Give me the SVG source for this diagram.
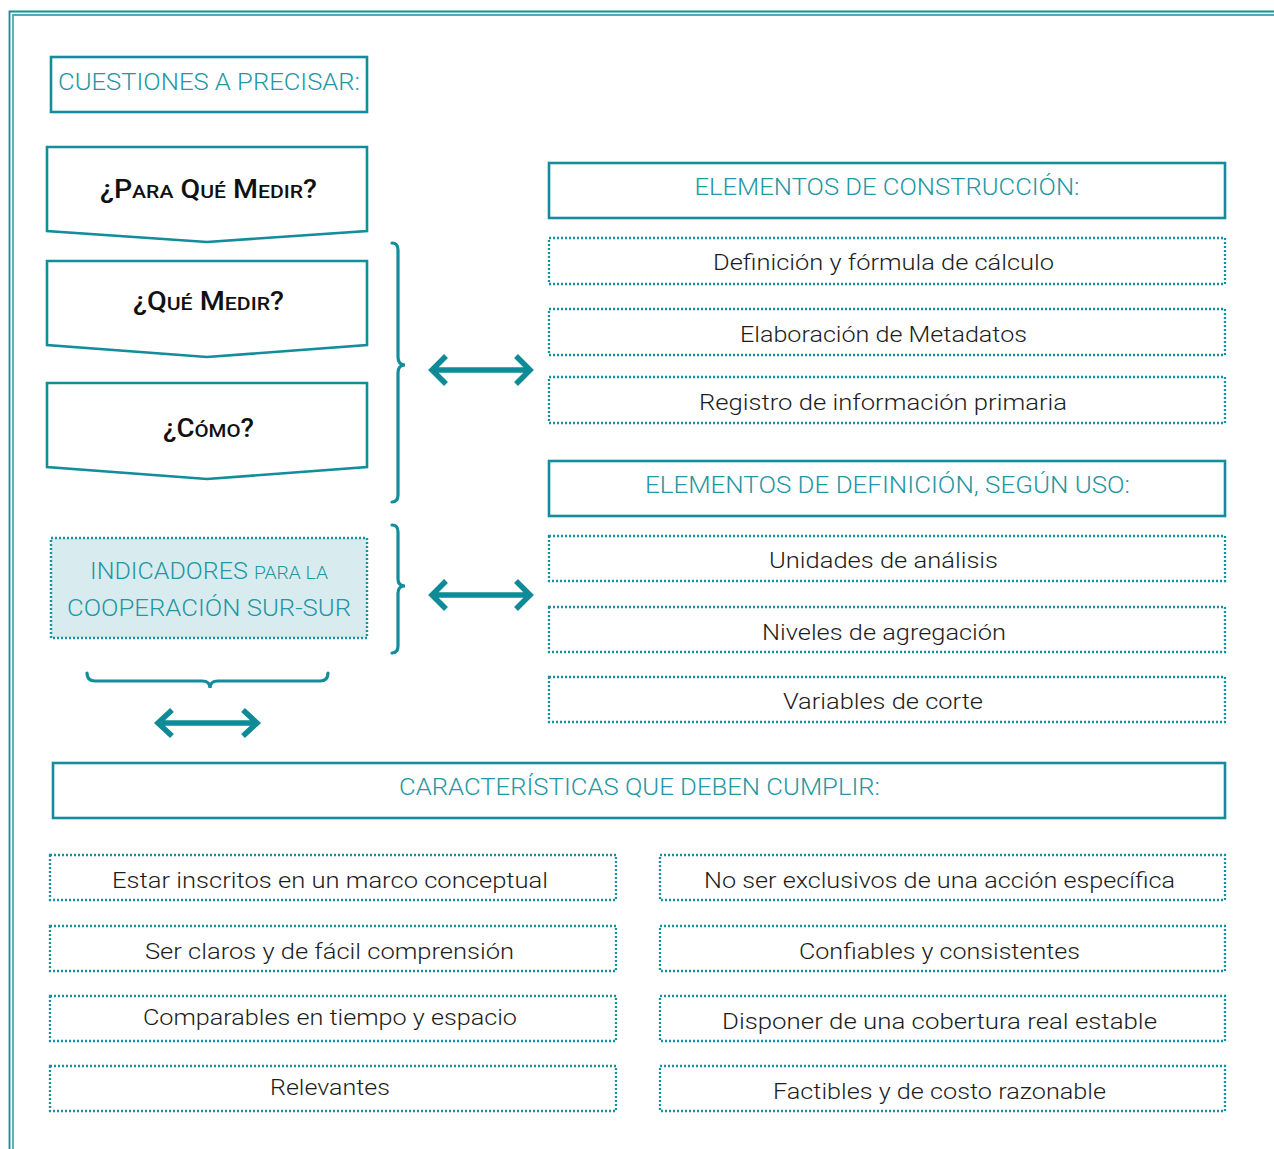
<svg xmlns="http://www.w3.org/2000/svg" width="1274" height="1149" viewBox="0 0 1274 1149">
<style>
.frame{fill:none;stroke:#138d9b;stroke-width:1.8}
.solid{fill:#fff;stroke:#138d9b;stroke-width:2.6}
.dot{fill:#fff;stroke:#1592a0;stroke-width:2.3;stroke-dasharray:2 2}
.brace{fill:none;stroke:#138d9b;stroke-width:3.2;stroke-linecap:round}
.arr{fill:none;stroke:#0f8a97;stroke-width:5.5}
.hd{font-family:Roboto,"Liberation Sans",sans-serif;font-weight:300;font-size:24px;fill:#2496a4;text-anchor:middle}
.tx{font-family:Roboto,"Liberation Sans",sans-serif;font-weight:300;font-size:22px;fill:#1c1c1c;text-anchor:middle}
.q{font-family:Roboto,"Liberation Sans",sans-serif;font-weight:500;font-size:25px;fill:#111;text-anchor:middle}
.sc{font-size:18.5px}
</style>
<rect width="1274" height="1149" fill="#fff"/>
<path class="frame" d="M1274,11.5 L9.5,11.5 L9.5,1149"/>
<path class="frame" d="M1274,15 L13,15 L13,1149" stroke-opacity="0.75" stroke-width="1.4"/>

<g id="cuestiones">
<rect class="solid" x="51" y="57" width="316" height="55"/>
<text class="hd" x="209" y="90" textLength="302" lengthAdjust="spacingAndGlyphs">CUESTIONES A PRECISAR:</text>
</g>
<g id="para-que">
<path class="solid" d="M47,147 L367,147 L367,231 L207,242 L47,231 Z"/>
<text class="q" x="208.5" y="198" textLength="217" lengthAdjust="spacingAndGlyphs">¿P<tspan class="sc">ARA</tspan> Q<tspan class="sc">UÉ</tspan> M<tspan class="sc">EDIR</tspan>?</text>
</g>
<g id="que-medir">
<path class="solid" d="M47,261 L367,261 L367,345 L207,357 L47,345 Z"/>
<text class="q" x="208.5" y="310" textLength="151" lengthAdjust="spacingAndGlyphs">¿Q<tspan class="sc">UÉ</tspan> M<tspan class="sc">EDIR</tspan>?</text>
</g>
<g id="como">
<path class="solid" d="M47,383 L367,383 L367,467 L207,479 L47,467 Z"/>
<text class="q" x="208.5" y="437" textLength="91" lengthAdjust="spacingAndGlyphs">¿C<tspan class="sc">ÓMO</tspan>?</text>
</g>
<g id="indicadores">
<rect x="51" y="538" width="316" height="100" fill="#d8ecef" stroke="#1592a0" stroke-width="2.4" stroke-dasharray="2 2"/>
<text class="hd" x="209" y="579" textLength="238" lengthAdjust="spacingAndGlyphs">INDICADORES <tspan class="sc">PARA LA</tspan></text>
<text class="hd" x="209" y="616" textLength="284" lengthAdjust="spacingAndGlyphs">COOPERACIÓN SUR-SUR</text>
</g>

<g id="construccion">
<rect class="solid" x="549" y="163" width="676" height="55"/>
<text class="hd" x="887" y="195" textLength="385" lengthAdjust="spacingAndGlyphs">ELEMENTOS DE CONSTRUCCIÓN:</text>
</g>
<g id="definicion-formula">
<rect class="dot" x="549" y="238" width="676" height="46"/>
<text class="tx" x="883.5" y="270" textLength="341" lengthAdjust="spacingAndGlyphs">Definición y fórmula de cálculo</text>
</g>
<g id="metadatos">
<rect class="dot" x="549" y="309" width="676" height="46"/>
<text class="tx" x="883.5" y="342" textLength="287" lengthAdjust="spacingAndGlyphs">Elaboración de Metadatos</text>
</g>
<g id="registro">
<rect class="dot" x="549" y="377" width="676" height="46"/>
<text class="tx" x="883" y="410" textLength="368" lengthAdjust="spacingAndGlyphs">Registro de información primaria</text>
</g>
<g id="definicion-uso">
<rect class="solid" x="549" y="461" width="676" height="55"/>
<text class="hd" x="887.5" y="493" textLength="485" lengthAdjust="spacingAndGlyphs">ELEMENTOS DE DEFINICIÓN, SEGÚN USO:</text>
</g>
<g id="unidades">
<rect class="dot" x="549" y="536" width="676" height="45"/>
<text class="tx" x="883.5" y="568" textLength="229" lengthAdjust="spacingAndGlyphs">Unidades de análisis</text>
</g>
<g id="niveles">
<rect class="dot" x="549" y="607" width="676" height="45"/>
<text class="tx" x="884" y="640" textLength="244" lengthAdjust="spacingAndGlyphs">Niveles de agregación</text>
</g>
<g id="variables">
<rect class="dot" x="549" y="677" width="676" height="45"/>
<text class="tx" x="883" y="709" textLength="200" lengthAdjust="spacingAndGlyphs">Variables de corte</text>
</g>

<g id="caracteristicas">
<rect class="solid" x="53" y="763" width="1172" height="55"/>
<text class="hd" x="639.5" y="795" textLength="481" lengthAdjust="spacingAndGlyphs">CARACTERÍSTICAS QUE DEBEN CUMPLIR:</text>
</g>
<g id="marco">
<rect class="dot" x="50" y="855" width="566" height="45"/>
<text class="tx" x="330" y="888" textLength="436" lengthAdjust="spacingAndGlyphs">Estar inscritos en un marco conceptual</text>
</g>
<g id="claros">
<rect class="dot" x="50" y="926" width="566" height="45"/>
<text class="tx" x="329.5" y="959" textLength="369" lengthAdjust="spacingAndGlyphs">Ser claros y de fácil comprensión</text>
</g>
<g id="comparables">
<rect class="dot" x="50" y="996" width="566" height="45"/>
<text class="tx" x="330" y="1025" textLength="374" lengthAdjust="spacingAndGlyphs">Comparables en tiempo y espacio</text>
</g>
<g id="relevantes">
<rect class="dot" x="50" y="1066" width="566" height="45"/>
<text class="tx" x="330" y="1095" textLength="120" lengthAdjust="spacingAndGlyphs">Relevantes</text>
</g>
<g id="exclusivos">
<rect class="dot" x="660" y="855" width="565" height="45"/>
<text class="tx" x="939.5" y="888" textLength="471" lengthAdjust="spacingAndGlyphs">No ser exclusivos de una acción específica</text>
</g>
<g id="confiables">
<rect class="dot" x="660" y="926" width="565" height="45"/>
<text class="tx" x="939.5" y="959" textLength="281" lengthAdjust="spacingAndGlyphs">Confiables y consistentes</text>
</g>
<g id="cobertura">
<rect class="dot" x="660" y="996" width="565" height="45"/>
<text class="tx" x="939.5" y="1029" textLength="435" lengthAdjust="spacingAndGlyphs">Disponer de una cobertura real estable</text>
</g>
<g id="factibles">
<rect class="dot" x="660" y="1066" width="565" height="45"/>
<text class="tx" x="939.5" y="1099" textLength="333" lengthAdjust="spacingAndGlyphs">Factibles y de costo razonable</text>
</g>

<g id="connectors">
<path class="brace" d="M392,243 Q398,243 398,250 L398,357 Q398,365 405,365 Q398,365 398,373 L398,495 Q398,502 392,502"/>
<path class="brace" d="M392,525 Q398,525 398,532 L398,579 Q398,586 405,586 Q398,586 398,593 L398,646 Q398,653 392,653"/>
<path class="brace" d="M87,673 Q87,681 95,681 L202,681 Q210,681 210,688 Q210,681 218,681 L320,681 Q328,681 328,673"/>
<path class="arr" d="M433,370 L529,370 M446,356 L432,370 L446,384 M516,356 L530,370 L516,384"/>
<path class="arr" d="M433,595 L529,595 M446,581 L432,595 L446,609 M516,581 L530,595 L516,609"/>
<path class="arr" d="M160,723 L255,723 M172,710 L158,723 L172,736 M243,710 L257,723 L243,736"/>
</g>
</svg>
